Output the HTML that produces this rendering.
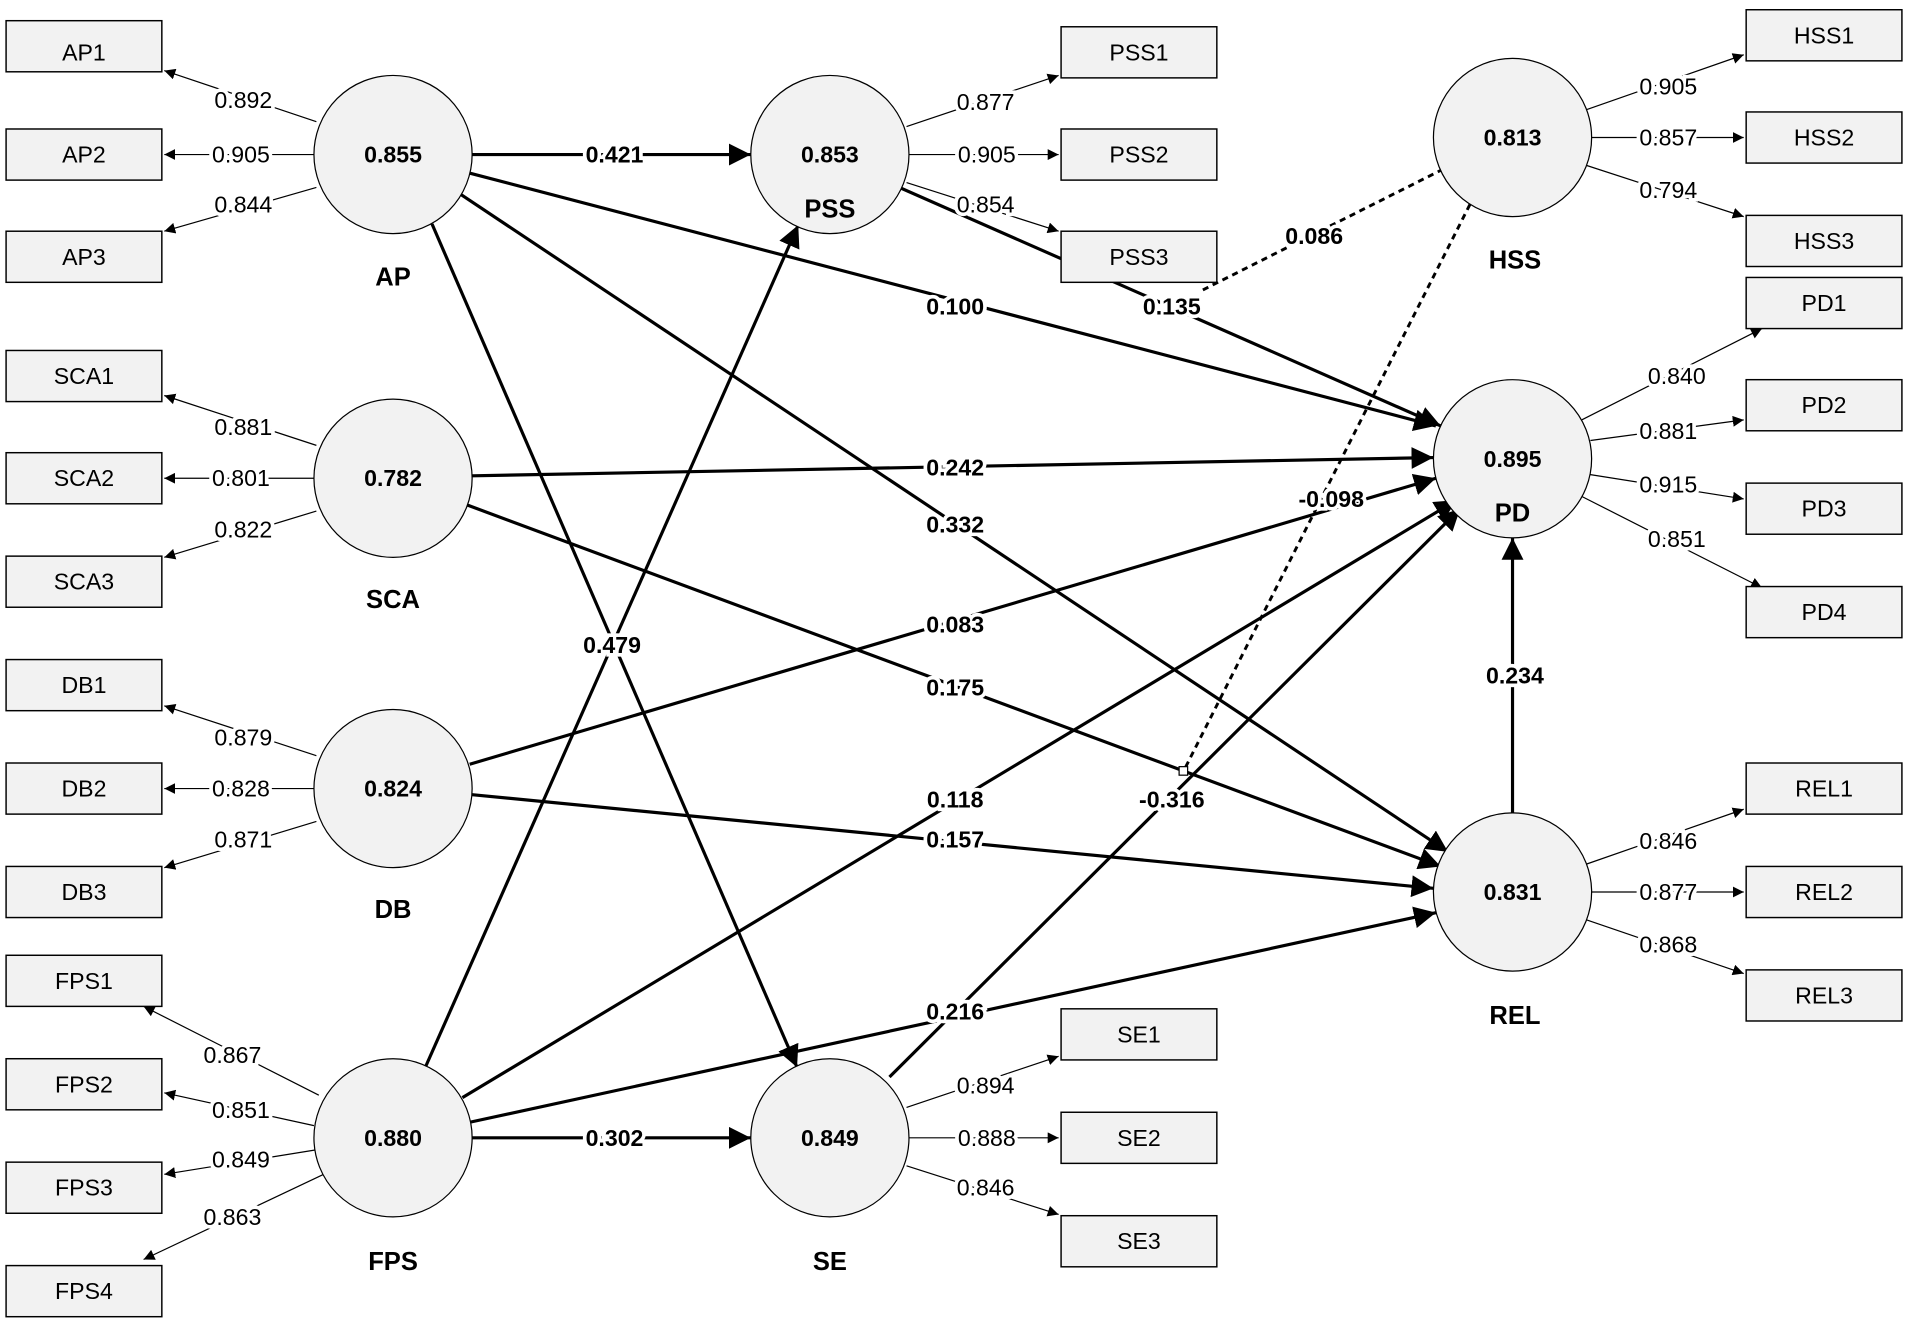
<!DOCTYPE html>
<html><head><meta charset="utf-8"><style>
html,body{margin:0;padding:0;background:#fff;}
svg{display:block;}
text{font-family:"Liberation Sans",Arial,sans-serif;}
.b{font-weight:bold;font-size:19px;}
.n{font-size:19px;}
</style></head><body>
<svg width="1908" height="1324" viewBox="0 0 1568 1088" preserveAspectRatio="none" xmlns="http://www.w3.org/2000/svg">
<defs>
<marker id="a" viewBox="0 0 10 10" refX="10" refY="5" markerWidth="9" markerHeight="9" markerUnits="userSpaceOnUse" orient="auto"><path d="M0,0L10,5L0,10z" fill="#000"/></marker>
<marker id="A" viewBox="0 0 10 10" refX="10" refY="5" markerWidth="18" markerHeight="18" markerUnits="userSpaceOnUse" orient="auto"><path d="M0,0L10,5L0,10z" fill="#000"/></marker>
</defs>
<rect width="1568" height="1088" fill="#fff"/>
<g stroke="#000" stroke-width="2.6" fill="none" marker-end="url(#A)">
<line x1="388" y1="127" x2="617" y2="127"/>
<line x1="385" y1="142" x2="1180" y2="350"/>
<line x1="379" y1="160" x2="1190" y2="700"/>
<line x1="355" y1="184" x2="655" y2="877"/>
<line x1="388" y1="391" x2="1178" y2="376"/>
<line x1="384" y1="415" x2="1184" y2="712"/>
<line x1="386" y1="628" x2="1180" y2="393"/>
<line x1="388" y1="653" x2="1178" y2="730"/>
<line x1="350" y1="876" x2="656" y2="185"/>
<line x1="380" y1="902" x2="1197" y2="411"/>
<line x1="387" y1="922" x2="1180" y2="750"/>
<line x1="388" y1="935" x2="617" y2="935"/>
<line x1="730" y1="150" x2="1184" y2="350"/>
<line x1="731" y1="885" x2="1200" y2="418"/>
<line x1="1243" y1="668" x2="1243" y2="442"/>
</g>
<g stroke="#000" stroke-width="2.4" stroke-dasharray="5,4" fill="none">
<line x1="1186" y1="139" x2="985" y2="240"/>
<line x1="1208" y1="168" x2="973" y2="633"/>
</g>
<rect x="969" y="630" width="7" height="7" fill="#fff" stroke="#000" stroke-width="1"/>
<g stroke="#000" stroke-width="1" fill="none" marker-end="url(#a)">
<line x1="260" y1="100" x2="135" y2="58"/><line x1="258" y1="127" x2="135" y2="127"/><line x1="260" y1="154" x2="135" y2="190"/>
<line x1="260" y1="366" x2="135" y2="325"/><line x1="258" y1="393" x2="135" y2="393"/><line x1="260" y1="420" x2="135" y2="458"/>
<line x1="260" y1="621" x2="135" y2="580"/><line x1="258" y1="648" x2="135" y2="648"/><line x1="260" y1="675" x2="135" y2="713"/>
<line x1="262" y1="900" x2="118" y2="827"/><line x1="258" y1="925" x2="135" y2="898"/><line x1="259" y1="945" x2="135" y2="965"/><line x1="266" y1="965" x2="118" y2="1035"/>
<line x1="745" y1="104" x2="870" y2="62"/><line x1="747" y1="127" x2="870" y2="127"/><line x1="745" y1="150" x2="870" y2="190"/>
<line x1="745" y1="910" x2="870" y2="868"/><line x1="747" y1="935" x2="870" y2="935"/><line x1="745" y1="958" x2="870" y2="998"/>
<line x1="1304" y1="90" x2="1433" y2="45"/><line x1="1308" y1="113" x2="1433" y2="113"/><line x1="1304" y1="136" x2="1433" y2="178"/>
<line x1="1300" y1="345" x2="1448" y2="270"/><line x1="1307" y1="362" x2="1433" y2="345"/><line x1="1307" y1="390" x2="1433" y2="410"/><line x1="1300" y1="408" x2="1448" y2="483"/>
<line x1="1304" y1="710" x2="1433" y2="665"/><line x1="1308" y1="733" x2="1433" y2="733"/><line x1="1304" y1="756" x2="1433" y2="800"/>
</g>
<g fill="#f2f2f2" stroke="#000" stroke-width="1.2">
<rect x="5" y="17" width="128" height="42"/><rect x="5" y="106" width="128" height="42"/><rect x="5" y="190" width="128" height="42"/>
<rect x="5" y="288" width="128" height="42"/><rect x="5" y="372" width="128" height="42"/><rect x="5" y="457" width="128" height="42"/>
<rect x="5" y="542" width="128" height="42"/><rect x="5" y="627" width="128" height="42"/><rect x="5" y="712" width="128" height="42"/>
<rect x="5" y="785" width="128" height="42"/><rect x="5" y="870" width="128" height="42"/><rect x="5" y="955" width="128" height="42"/><rect x="5" y="1040" width="128" height="42"/>
<rect x="872" y="22" width="128" height="42"/><rect x="872" y="106" width="128" height="42"/><rect x="872" y="190" width="128" height="42"/>
<rect x="872" y="829" width="128" height="42"/><rect x="872" y="914" width="128" height="42"/><rect x="872" y="999" width="128" height="42"/>
<rect x="1435" y="8" width="128" height="42"/><rect x="1435" y="92" width="128" height="42"/><rect x="1435" y="177" width="128" height="42"/>
<rect x="1435" y="228" width="128" height="42"/><rect x="1435" y="312" width="128" height="42"/><rect x="1435" y="397" width="128" height="42"/><rect x="1435" y="482" width="128" height="42"/>
<rect x="1435" y="627" width="128" height="42"/><rect x="1435" y="712" width="128" height="42"/><rect x="1435" y="797" width="128" height="42"/>
</g>
<g fill="#f2f2f2" stroke="#000" stroke-width="1">
<circle cx="323" cy="127" r="65"/><circle cx="323" cy="393" r="65"/><circle cx="323" cy="648" r="65"/><circle cx="323" cy="935" r="65"/>
<circle cx="682" cy="127" r="65"/><circle cx="682" cy="935" r="65"/>
<circle cx="1243" cy="113" r="65"/><circle cx="1243" cy="377" r="65"/><circle cx="1243" cy="733" r="65"/>
</g>
<g class="n" text-anchor="middle" dominant-baseline="central" fill="#000">
<text x="69" y="43">AP1</text><text x="69" y="127">AP2</text><text x="69" y="211">AP3</text>
<text x="69" y="309">SCA1</text><text x="69" y="393">SCA2</text><text x="69" y="478">SCA3</text>
<text x="69" y="563">DB1</text><text x="69" y="648">DB2</text><text x="69" y="733">DB3</text>
<text x="69" y="806">FPS1</text><text x="69" y="891">FPS2</text><text x="69" y="976">FPS3</text><text x="69" y="1061">FPS4</text>
<text x="936" y="43">PSS1</text><text x="936" y="127">PSS2</text><text x="936" y="211">PSS3</text>
<text x="936" y="850">SE1</text><text x="936" y="935">SE2</text><text x="936" y="1020">SE3</text>
<text x="1499" y="29">HSS1</text><text x="1499" y="113">HSS2</text><text x="1499" y="198">HSS3</text>
<text x="1499" y="249">PD1</text><text x="1499" y="333">PD2</text><text x="1499" y="418">PD3</text><text x="1499" y="503">PD4</text>
<text x="1499" y="648">REL1</text><text x="1499" y="733">REL2</text><text x="1499" y="818">REL3</text>
</g>
<g class="n" text-anchor="middle" dominant-baseline="central" fill="#000" stroke="#fff" stroke-width="6" paint-order="stroke">
<text x="200" y="82">0.892</text><text x="198" y="127">0.905</text><text x="200" y="168">0.844</text>
<text x="200" y="351">0.881</text><text x="198" y="393">0.801</text><text x="200" y="435">0.822</text>
<text x="200" y="606">0.879</text><text x="198" y="648">0.828</text><text x="200" y="690">0.871</text>
<text x="191" y="867">0.867</text><text x="198" y="912">0.851</text><text x="198" y="953">0.849</text><text x="191" y="1000">0.863</text>
<text x="810" y="84">0.877</text><text x="811" y="127">0.905</text><text x="810" y="168">0.854</text>
<text x="810" y="892">0.894</text><text x="811" y="935">0.888</text><text x="810" y="976">0.846</text>
<text x="1371" y="71">0.905</text><text x="1371" y="113">0.857</text><text x="1371" y="156">0.794</text>
<text x="1378" y="309">0.840</text><text x="1371" y="354">0.881</text><text x="1371" y="398">0.915</text><text x="1378" y="443">0.851</text>
<text x="1371" y="691">0.846</text><text x="1371" y="733">0.877</text><text x="1371" y="776">0.868</text>
</g>
<g class="b" text-anchor="middle" dominant-baseline="central" fill="#000" stroke="#fff" stroke-width="6" paint-order="stroke">
<text x="505" y="127">0.421</text><text x="785" y="252">0.100</text><text x="785" y="431">0.332</text><text x="503" y="530">0.479</text>
<text x="785" y="384">0.242</text><text x="785" y="565">0.175</text><text x="785" y="513">0.083</text><text x="785" y="690">0.157</text>
<text x="785" y="657">0.118</text><text x="785" y="831">0.216</text><text x="505" y="935">0.302</text>
<text x="963" y="252">0.135</text><text x="963" y="657">-0.316</text><text x="1245" y="555">0.234</text>
<text x="1080" y="194">0.086</text><text x="1094" y="410">-0.098</text>
</g>
<g class="b" text-anchor="middle" dominant-baseline="central" fill="#000">
<text x="323" y="127">0.855</text><text x="323" y="393">0.782</text><text x="323" y="648">0.824</text><text x="323" y="935">0.880</text>
<text x="682" y="127">0.853</text><text x="682" y="935">0.849</text><text x="1243" y="113">0.813</text><text x="1243" y="377">0.895</text><text x="1243" y="733">0.831</text>
<text x="682" y="172" style="font-size:21px">PSS</text><text x="1243" y="422" style="font-size:21px">PD</text>
<text x="323" y="228" style="font-size:21px">AP</text><text x="323" y="493" style="font-size:21px">SCA</text><text x="323" y="748" style="font-size:21px">DB</text>
<text x="323" y="1037" style="font-size:21px">FPS</text><text x="682" y="1037" style="font-size:21px">SE</text>
<text x="1245" y="214" style="font-size:21px">HSS</text><text x="1245" y="835" style="font-size:21px">REL</text>
</g>
</svg>
</body></html>
